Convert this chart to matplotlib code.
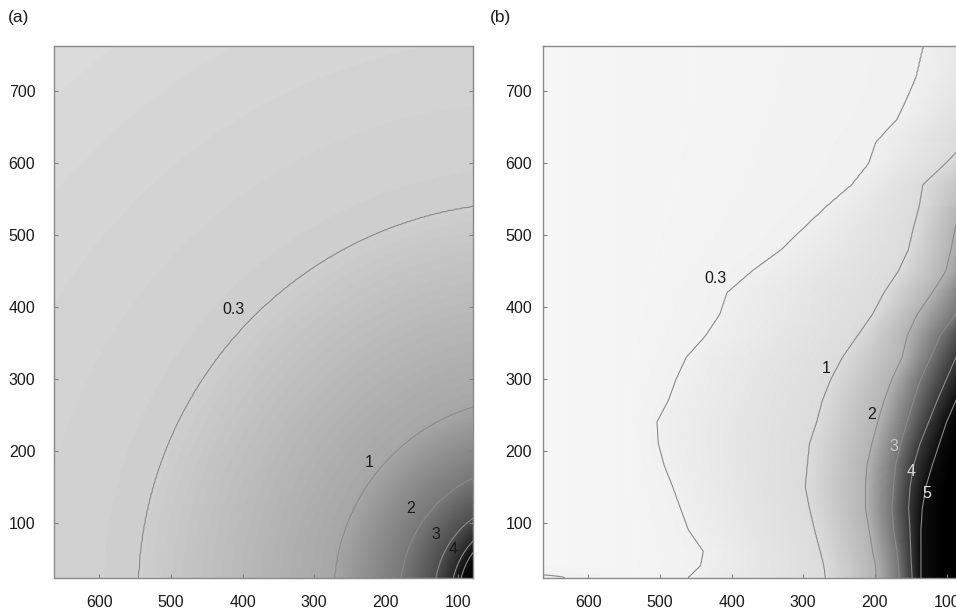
import numpy as np
import matplotlib
matplotlib.use("Agg")
import matplotlib.pyplot as plt
from matplotlib.colors import LinearSegmentedColormap, Normalize

plt.rcParams["font.family"] = ["Liberation Sans", "DejaVu Sans"]

nan = np.nan

x_ticks = [600, 500, 400, 300, 200, 100]
y_ticks = [100, 200, 300, 400, 500, 600, 700]
levels = [0.3, 1, 2, 3, 4, 5]

# panel (a): value against distance from the origin
radius_a = [0, 60, 98, 108, 132, 180, 272, 545, 1010]
value_a = [9, 7, 5, 4, 3, 2, 1, 0.3, 0.12]

# panel (b): x position where each contour crosses each row (nan = not there)
rows_b = [24, 40, 60, 90, 120, 150, 180, 210, 240, 270, 300, 330, 360,
          390, 420, 450, 480, 510, 540, 570, 600, 630, 660, 690, 720, 763]
cross_03 = [460, 443, 439, 460, 471, 482, 494, 502, 504, 488, 477, 463, 436,
            416, 406, 371, 330, 299, 267, 232, 208, 198, 169, 155, 142, 132]
cross_1 = [269, 271, 276, 284, 291, 297, 294, 291, 281, 273, 261, 245, 224,
           203, 187, 167, 153, 146, 138, 133, 101, 72, nan, nan, nan, nan]
cross_2 = [198, 199, 203, 208, 213, 213, 211, 204, 196, 187, 176, 162, 155,
           141, 120, 101, 94, 88, 76, nan, nan, nan, nan, nan, nan, nan]
cross_3 = [166, 167, 169, 174, 176, 174, 171, 164, 155, 146, 136, 122, 109,
           87, 70, nan, nan, nan, nan, nan, nan, nan, nan, nan, nan, nan]
cross_4 = [148, 149, 150, 151, 153, 151, 146, 137, 125, 113, 100, 87, 72,
           nan, nan, nan, nan, nan, nan, nan, nan, nan, nan, nan, nan, nan]
cross_5 = [136, 136, 136, 136, 134, 129, 120, 110, 100, 87, 72, nan, nan,
           nan, nan, nan, nan, nan, nan, nan, nan, nan, nan, nan, nan, nan]
# values just beyond the right edge (x=40), in the open area (x=560) and at the left edge (x=663)
right_b = [8, 8, 8, 8, 8, 8, 8, 8, 8, 6.5, 6, 5.5, 5,
           4.2, 3.8, 3.3, 3.0, 2.7, 2.4, 2.1, 1.7, 1.3, 1.1, 0.95, 0.85, 0.75]
open_b = 0.18
left_b = [0.35] + [0.12] * 25

# grey shade (0-255) for field values
shade_values = [0, 0.12, 0.3, 1, 2, 3, 4, 5, 6, 9]
shade_a = [225, 218, 205, 165, 120, 78, 40, 14, 0, 0]
shade_b = [250, 246, 240, 220, 180, 118, 58, 15, 0, 0]

label_pos_a = [(412, 396), (223, 184), (165, 120), (130, 83), (106, 62)]
label_pos_b = [(423, 440), (268, 315), (204, 250), (174, 206), (150, 171), (128, 140)]
label_col_b = ["#1a1a1a", "#1a1a1a", "#1a1a1a", "#c8c8c8", "#d8d8d8", "#e0e0e0"]

xlim = (663, 78.5)
ylim = (23, 763)


def gray_cmap(name, shades):
    vmax = shade_values[-1]
    return LinearSegmentedColormap.from_list(
        name, [(v / vmax, (g / 255,) * 3) for v, g in zip(shade_values, shades)])


def style_axes(ax, ypad):
    ax.set_xlim(*xlim)
    ax.set_ylim(*ylim)
    ax.set_xticks(x_ticks)
    ax.set_yticks(y_ticks)
    ax.tick_params(direction="in", length=3, width=0.8, color="#808080",
                   labelsize=11.5, labelcolor="#1a1a1a", right=True, top=False)
    ax.tick_params(axis="y", pad=ypad)
    ax.tick_params(axis="x", pad=12.5)
    for sp in ax.spines.values():
        sp.set_color("#8a8a8a")
        sp.set_linewidth(1.0)


fig = plt.figure(figsize=(9.56, 6.14), dpi=100)
norm = Normalize(0, shade_values[-1])

# ---- panel (a)
ax_a = fig.add_axes([0.0565, 0.0586, 0.4383, 0.8665])
xa = np.linspace(xlim[0], xlim[1], 300)
ya = np.linspace(ylim[0], ylim[1], 380)
XA, YA = np.meshgrid(xa, ya)
ZA = np.interp(np.hypot(XA, YA), radius_a, value_a)
ax_a.pcolormesh(XA, YA, ZA, cmap=gray_cmap("ga", shade_a), norm=norm, shading="gouraud")
ax_a.contour(XA, YA, ZA, levels=levels, colors="#8a8a8a", linewidths=0.8)
for (lx, ly), lev in zip(label_pos_a, ["0.3", "1", "2", "3", "4"]):
    ax_a.text(lx, ly, lev, fontsize=11.5, color="#1a1a1a", ha="center", va="center")
style_axes(ax_a, 13.5)

# ---- panel (b)
ax_b = fig.add_axes([0.568, 0.0586, 0.4383, 0.8665])
xb = np.linspace(xlim[0], xlim[1], 400)
yb = np.linspace(ylim[0], ylim[1], 500)
rows = np.array(rows_b, float)
right_f = np.interp(yb, rows, right_b)
left_f = np.interp(yb, rows, left_b)

# contour crossings followed along y, each only as high as it was seen
cross_f = []
for cr in [cross_5, cross_4, cross_3, cross_2, cross_1, cross_03]:
    cr = np.array(cr, float)
    ok = ~np.isnan(cr)
    f = np.interp(yb, rows[ok], cr[ok])
    f[yb > rows[ok].max()] = nan
    cross_f.append(f)

ZB = np.empty((len(yb), len(xb)))
for i in range(len(yb)):
    px, pv = [40], [right_f[i]]
    for lev, f in zip(levels[::-1], cross_f):
        if not np.isnan(f[i]):
            px.append(f[i])
            pv.append(lev)
    px += [560, 663]
    pv += [open_b, left_f[i]]
    ZB[i] = np.interp(xb, px, pv)

XB, YB = np.meshgrid(xb, yb)
ax_b.pcolormesh(XB, YB, ZB, cmap=gray_cmap("gb", shade_b), norm=norm, shading="gouraud")
ax_b.contour(XB, YB, ZB, levels=levels, colors="#8a8a8a", linewidths=0.8)
for (lx, ly), lev, c in zip(label_pos_b, ["0.3", "1", "2", "3", "4", "5"], label_col_b):
    ax_b.text(lx, ly, lev, fontsize=11.5, color=c, ha="center", va="center")
style_axes(ax_b, 8)

fig.text(0.008, 0.971, "(a)", fontsize=12.5, va="center", color="#1a1a1a")
fig.text(0.5126, 0.971, "(b)", fontsize=12.5, va="center", color="#1a1a1a")

fig.savefig("out.png", dpi=100, facecolor="white")
